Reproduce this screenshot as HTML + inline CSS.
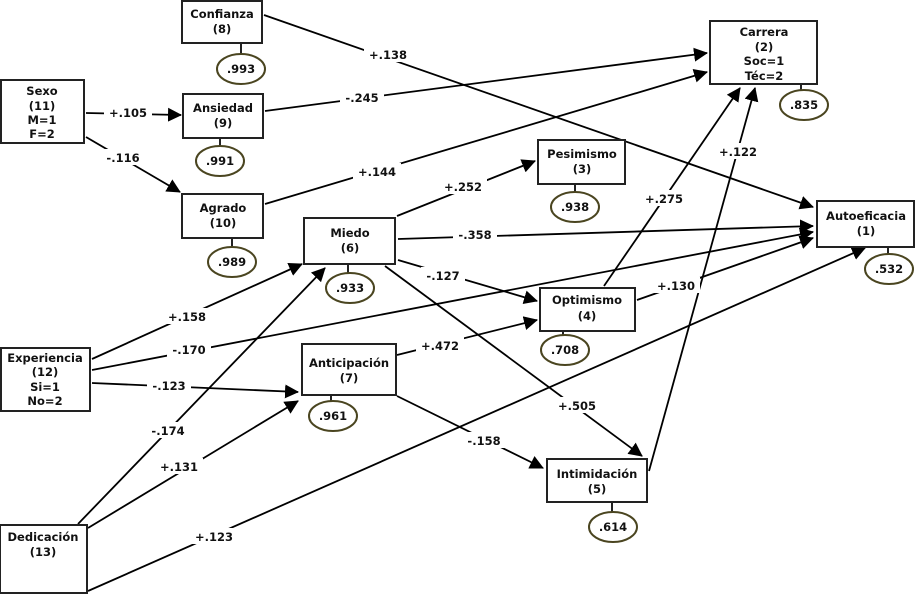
<!DOCTYPE html>
<html><head><meta charset="utf-8"><style>
html,body{margin:0;padding:0;background:#fff;}
svg{display:block;}
text{font-family:"DejaVu Sans","Liberation Sans",sans-serif;font-weight:bold;font-size:11.5px;fill:#111;text-anchor:middle;}
.b{fill:#fff;stroke:#222;stroke-width:2;}
.e{fill:#fff;stroke:#4a4520;stroke-width:2;}
.l{stroke:#000;stroke-width:1.8;fill:none;}
</style></head><body>
<svg width="918" height="594" viewBox="0 0 918 594" xmlns="http://www.w3.org/2000/svg">
<defs><marker id="a" markerWidth="10" markerHeight="10" refX="9" refY="5" orient="auto" markerUnits="userSpaceOnUse" viewBox="0 0 10 10"><path d="M0,0 L10,5 L0,10 z" fill="#000"/></marker>
<marker id="A" markerWidth="14" markerHeight="14" refX="13" refY="7" orient="auto" markerUnits="userSpaceOnUse" viewBox="0 0 14 14"><path d="M0,0 L14,7 L0,14 z" fill="#000"/></marker></defs>
<g class="l" marker-end="url(#A)">
<line x1="86" y1="113" x2="181" y2="115"/>
<line x1="86" y1="137" x2="180" y2="192"/>
<line x1="264" y1="15" x2="813" y2="207"/>
<line x1="265" y1="111" x2="707" y2="53"/>
<line x1="265" y1="204" x2="707" y2="72"/>
<line x1="397" y1="216" x2="535" y2="161"/>
<line x1="398" y1="239" x2="813" y2="226"/>
<line x1="398" y1="260" x2="537" y2="301"/>
<line x1="385" y1="266" x2="642" y2="456"/>
<line x1="92" y1="359" x2="302" y2="264"/>
<line x1="92" y1="370" x2="813" y2="232"/>
<line x1="92" y1="383" x2="298" y2="392"/>
<line x1="78" y1="524" x2="325" y2="268"/>
<line x1="88" y1="528" x2="298" y2="401"/>
<line x1="88" y1="591" x2="865" y2="248"/>
<line x1="397" y1="355" x2="537" y2="320"/>
<line x1="397" y1="396" x2="543" y2="468"/>
<line x1="604" y1="286" x2="740" y2="88"/>
<line x1="637" y1="300" x2="813" y2="238"/>
<line x1="649" y1="471" x2="755" y2="88"/>
</g>
<g>
<g fill="#fff">
<rect x="104" y="104" width="48" height="16"/><rect x="101" y="149" width="44" height="16"/>
<rect x="364" y="46" width="48" height="16"/><rect x="340" y="89" width="44" height="16"/>
<rect x="353" y="163" width="48" height="16"/><rect x="439" y="178" width="48" height="16"/>
<rect x="453" y="226" width="44" height="16"/><rect x="421" y="267" width="44" height="16"/>
<rect x="553" y="397" width="48" height="16"/><rect x="163" y="308" width="48" height="16"/>
<rect x="167" y="341" width="44" height="16"/><rect x="147" y="377" width="44" height="16"/>
<rect x="146" y="422" width="44" height="16"/><rect x="155" y="458" width="48" height="16"/>
<rect x="190" y="528" width="48" height="16"/><rect x="416" y="337" width="48" height="16"/>
<rect x="462" y="432" width="44" height="16"/><rect x="640" y="190" width="48" height="16"/>
<rect x="652" y="277" width="48" height="16"/><rect x="714" y="143" width="48" height="16"/>
</g>
<text x="128" y="117">+.105</text><text x="123" y="162">-.116</text>
<text x="388" y="59">+.138</text><text x="362" y="102">-.245</text>
<text x="377" y="176">+.144</text><text x="463" y="191">+.252</text>
<text x="475" y="239">-.358</text><text x="443" y="280">-.127</text>
<text x="577" y="410">+.505</text><text x="187" y="321">+.158</text>
<text x="189" y="354">-.170</text><text x="169" y="390">-.123</text>
<text x="168" y="435">-.174</text><text x="179" y="471">+.131</text>
<text x="214" y="541">+.123</text><text x="440" y="350">+.472</text>
<text x="484" y="445">-.158</text><text x="664" y="203">+.275</text>
<text x="676" y="290">+.130</text><text x="738" y="156">+.122</text>
</g>
<g stroke="#222" stroke-width="2">
<line x1="241" y1="43" x2="241" y2="54"/><line x1="220" y1="138" x2="220" y2="146"/>
<line x1="232" y1="238" x2="232" y2="247"/><line x1="348" y1="264" x2="348" y2="273"/>
<line x1="801" y1="84" x2="801" y2="90"/><line x1="575" y1="184" x2="575" y2="192"/>
<line x1="888" y1="247" x2="888" y2="254"/><line x1="563" y1="331" x2="563" y2="335"/>
<line x1="331" y1="395" x2="331" y2="401"/><line x1="612" y1="502" x2="612" y2="512"/>
</g>
<rect class="b" x="182" y="1" width="80" height="42"/><text x="222" y="18">Confianza</text><text x="222" y="33">(8)</text>
<rect class="b" x="1" y="80" width="83" height="63"/><text x="42" y="95">Sexo</text><text x="42" y="110">(11)</text><text x="42" y="124">M=1</text><text x="42" y="138">F=2</text>
<rect class="b" x="183" y="94" width="80" height="44"/><text x="223" y="112">Ansiedad</text><text x="223" y="127">(9)</text>
<rect class="b" x="182" y="194" width="81" height="44"/><text x="223" y="212">Agrado</text><text x="223" y="227">(10)</text>
<rect class="b" x="304" y="218" width="91" height="46"/><text x="350" y="237">Miedo</text><text x="350" y="252">(6)</text>
<rect class="b" x="710" y="21" width="107" height="63"/><text x="764" y="36">Carrera</text><text x="764" y="51">(2)</text><text x="764" y="65">Soc=1</text><text x="764" y="80">Téc=2</text>
<rect class="b" x="538" y="140" width="87" height="44"/><text x="582" y="158">Pesimismo</text><text x="582" y="173">(3)</text>
<rect class="b" x="817" y="201" width="97" height="46"/><text x="866" y="220">Autoeficacia</text><text x="866" y="235">(1)</text>
<rect class="b" x="540" y="288" width="95" height="43"/><text x="587" y="304">Optimismo</text><text x="587" y="320">(4)</text>
<rect class="b" x="302" y="344" width="94" height="51"/><text x="349" y="367">Anticipación</text><text x="349" y="382">(7)</text>
<rect class="b" x="1" y="348" width="89" height="63"/><text x="45" y="362">Experiencia</text><text x="45" y="376">(12)</text><text x="45" y="391">Si=1</text><text x="45" y="405">No=2</text>
<rect class="b" x="547" y="459" width="100" height="43"/><text x="597" y="478">Intimidación</text><text x="597" y="493">(5)</text>
<rect class="b" x="0" y="525" width="87" height="68"/><text x="43" y="541">Dedicación</text><text x="43" y="556">(13)</text>
<ellipse class="e" cx="241" cy="69" rx="24" ry="15"/><text x="241" y="73">.993</text>
<ellipse class="e" cx="220" cy="161" rx="24" ry="15"/><text x="220" y="165">.991</text>
<ellipse class="e" cx="232" cy="262" rx="24" ry="15"/><text x="232" y="266">.989</text>
<ellipse class="e" cx="350" cy="288" rx="24" ry="15"/><text x="350" y="292">.933</text>
<ellipse class="e" cx="804" cy="105" rx="24" ry="15"/><text x="804" y="109">.835</text>
<ellipse class="e" cx="575" cy="207" rx="24" ry="15"/><text x="575" y="211">.938</text>
<ellipse class="e" cx="889" cy="269" rx="24" ry="15"/><text x="889" y="273">.532</text>
<ellipse class="e" cx="565" cy="350" rx="24" ry="15"/><text x="565" y="354">.708</text>
<ellipse class="e" cx="333" cy="416" rx="24" ry="15"/><text x="333" y="420">.961</text>
<ellipse class="e" cx="613" cy="527" rx="24" ry="15"/><text x="613" y="531">.614</text>
</svg>
</body></html>
